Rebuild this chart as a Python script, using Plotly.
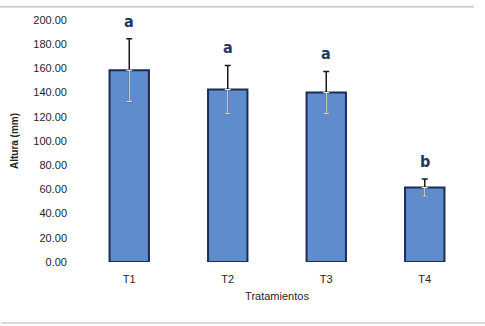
import plotly.graph_objects as go

categories = ["T1", "T2", "T3", "T4"]
values = [158.5, 142.5, 140.0, 61.5]
errors = [26.0, 20.0, 17.5, 7.0]
letters = ["a", "a", "a", "b"]
y_ticks = [0, 20, 40, 60, 80, 100, 120, 140, 160, 180, 200]

fig = go.Figure()
fig.add_trace(go.Bar(
    x=categories, y=values,
    marker=dict(color="#5f8ccd", line=dict(color="#1c2c55", width=2)),
    error_y=dict(type="data", array=errors, color="#1a1a1a", thickness=1.5, width=3),
    width=0.4,
))
# white inner part of the error bars (below bar top)
fig.add_trace(go.Scatter(
    x=categories, y=values, mode="markers",
    marker=dict(size=0.1, opacity=0),
    error_y=dict(type="data", symmetric=False, array=[0]*4, arrayminus=errors,
                 color="#ffffff", thickness=1, width=3),
    hoverinfo="skip",
))
for c, v, e, l in zip(categories, values, errors, letters):
    fig.add_annotation(x=c, y=v + e, text="<b>" + l + "</b>", showarrow=False,
                       yshift=6, yanchor="bottom",
                       font=dict(family="DejaVu Sans Condensed", size=16, color="#1f3864"))

fig.update_layout(
    width=485, height=326,
    margin=dict(l=80, r=11, t=20, b=64),
    paper_bgcolor="white", plot_bgcolor="white",
    showlegend=False,
    font=dict(family="Liberation Sans, Arial", color="#262626"),
    xaxis=dict(range=[-0.5, 3.5], showline=False, ticks="", ticklabelstandoff=9,
               tickfont=dict(size=11, color="#262626"),
               title=dict(text="Tratamientos", font=dict(size=11, color="#262626"), standoff=8)),
    yaxis=dict(range=[0, 200], tickvals=y_ticks, tickformat=".2f", showgrid=False,
               zeroline=False, showline=False, ticks="", ticklabelstandoff=12,
               tickfont=dict(size=11, color="#262626"),
               title=dict(text="<b>Altura (mm)</b>", font=dict(size=10, color="#262626"), standoff=12)),
    shapes=[
        dict(type="line", xref="paper", yref="paper", x0=-0.21, x1=1.0, y0=1.055, y1=1.055,
             line=dict(color="#d0d0d0", width=2)),
        dict(type="line", xref="paper", yref="paper", x0=-0.2, x1=1.03, y0=-0.252, y1=-0.252,
             line=dict(color="#d8d8d8", width=2)),
    ],
)
fig.write_html("out.html", config={"displayModeBar": False},
               post_script="document.body.style.margin='0';")
